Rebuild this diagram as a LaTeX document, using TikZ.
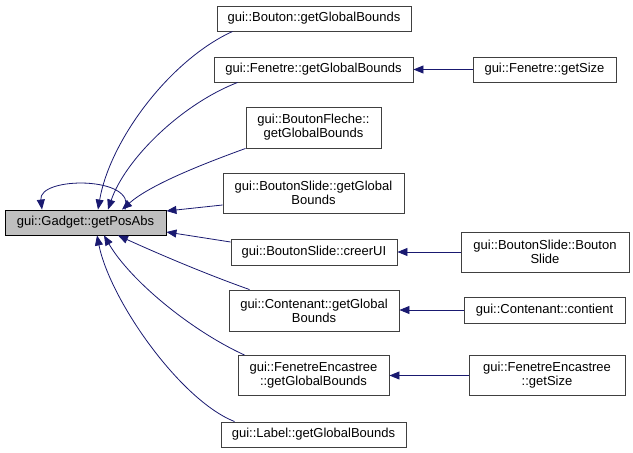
\documentclass[tikz,border=0pt]{standalone}
\usepackage{fontspec}
\setmainfont{Liberation Sans}
\usetikzlibrary{arrows.meta}
\definecolor{edgec}{HTML}{191970}
\definecolor{boxc}{HTML}{404040}
\definecolor{grayfill}{HTML}{BFBFBF}
\begin{document}
\begin{tikzpicture}[x=1pt,y=-1pt,
  box/.style={draw=boxc,line width=0.9pt,fill=white,inner sep=0pt,align=center,
    font=\fontsize{13}{14}\selectfont},
  edge/.style={draw=edgec,line width=0.8pt,-{Triangle[length=10pt,width=8pt]}}]
\useasboundingbox (0,0) rectangle (633,453);
\node[box,fill=grayfill,draw=black,minimum width=161,minimum height=25] (gadget) at (85.5,222.5) {gui::Gadget::getPosAbs};
\node[box,minimum width=194,minimum height=25] (bouton) at (314,18.5) {gui::Bouton::getGlobalBounds};
\node[box,minimum width=199,minimum height=25] (fenetre) at (313.5,69.5) {gui::Fenetre::getGlobalBounds};
\node[box,minimum width=143,minimum height=25] (fsize) at (544.5,69.5) {gui::Fenetre::getSize};
\node[box,minimum width=135,minimum height=41] (fleche) at (313.5,127.5) {gui::BoutonFleche::\\getGlobalBounds};
\node[box,minimum width=181,minimum height=40] (bsgb) at (313.5,193) {gui::BoutonSlide::getGlobal\\Bounds};
\node[box,minimum width=166,minimum height=26] (creer) at (314,252) {gui::BoutonSlide::creerUI};
\node[box,minimum width=168,minimum height=40] (bsbs) at (545,252) {gui::BoutonSlide::Bouton\\Slide};
\node[box,minimum width=170,minimum height=41] (cont) at (314,310.5) {gui::Contenant::getGlobal\\Bounds};
\node[box,minimum width=161,minimum height=26] (contient) at (544.5,310) {gui::Contenant::contient};
\node[box,minimum width=151,minimum height=40] (fenc) at (313.5,375.5) {gui::FenetreEncastree\\::getGlobalBounds};
\node[box,minimum width=156,minimum height=40] (fencsize) at (547,375.5) {gui::FenetreEncastree\\::getSize};
\node[box,minimum width=185,minimum height=25] (label) at (313.5,434.5) {gui::Label::getGlobalBounds};
% edges into gadget
\draw[edge] ([xshift=16pt]bouton.south west) .. controls (170,60) and (110,140) .. ([xshift=12.5pt]gadget.north);
\draw[edge] ([xshift=24pt]fenetre.south west) .. controls (180,105) and (125,160) .. ([xshift=22.5pt]gadget.north);
\draw[edge] (fleche.south west) .. controls (200,165) and (150,185) .. ([xshift=36.5pt]gadget.north);
\draw[edge] ([xshift=39.5pt]gadget.north) .. controls (138,176) and (38,176) .. ([xshift=-43.5pt]gadget.north);
\draw[edge] ([yshift=-12pt]bsgb.west) -- ([yshift=11.5pt]gadget.east);
\draw[edge] ([yshift=10pt]creer.west) -- ([yshift=-9.5pt]gadget.east);
\draw[edge] ([xshift=21pt]cont.north west) .. controls (200,272) and (150,250) .. ([xshift=32.5pt]gadget.south);
\draw[edge] ([xshift=7pt]fenc.north west) .. controls (190,330) and (130,280) .. ([xshift=18.5pt]gadget.south);
\draw[edge] ([xshift=14pt]label.north west) .. controls (180,400) and (110,300) .. ([xshift=11.5pt]gadget.south);
% right edges
\draw[edge] (fsize.west) -- (fenetre.east);
\draw[edge] (bsbs.west) -- (creer.east);
\draw[edge] (contient.west) -- (cont.east |- contient.west);
\draw[edge] (fencsize.west) -- (fenc.east);
\end{tikzpicture}
\end{document}
